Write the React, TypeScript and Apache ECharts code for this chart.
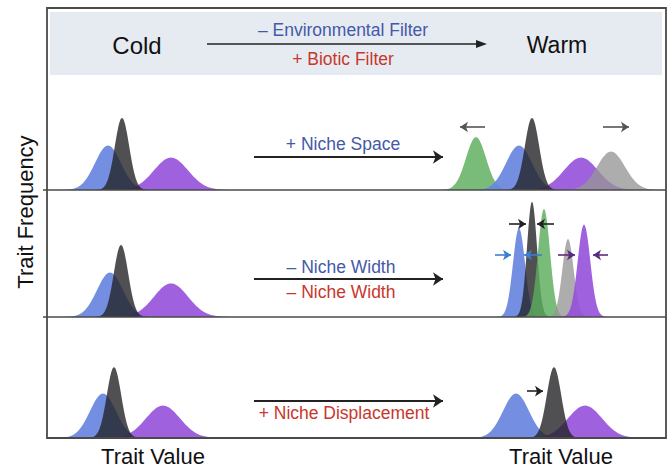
import React, { useEffect, useRef } from "react";
import * as echarts from "echarts";

// Species colours (index used in the data rows)
const speciesNames = ["blue", "black", "purple", "green", "grey"];
const speciesFill = [
  "rgba(104,134,222,0.92)",
  "rgba(36,36,40,0.80)",
  "rgba(150,80,218,0.90)",
  "rgba(92,172,92,0.82)",
  "rgba(150,150,150,0.78)",
];

// Distributions: [mean trait value, sd, peak frequency, species index] (drawing order)
const coldSpace = [
  [6.1, 1.3, 0.37, 0],
  [12.4, 1.7, 0.27, 2],
  [7.5, 0.72, 0.6, 1],
];
const warmSpace = [
  [42.9, 1.0, 0.44, 3],
  [47.2, 1.3, 0.37, 0],
  [53.4, 1.7, 0.27, 2],
  [48.5, 0.72, 0.6, 1],
  [56.4, 1.4, 0.32, 4],
];
const coldWidth = [
  [6.3, 1.3, 0.37, 0],
  [12.4, 1.7, 0.28, 2],
  [7.4, 0.72, 0.6, 1],
];
const warmWidth = [
  [47.2, 0.6, 0.74, 0],
  [48.5, 0.5, 0.96, 1],
  [49.7, 0.6, 0.9, 3],
  [52.1, 0.57, 0.65, 4],
  [53.7, 0.63, 0.77, 2],
];
const coldDisp = [
  [5.6, 1.3, 0.37, 0],
  [11.6, 1.7, 0.27, 2],
  [6.7, 0.72, 0.59, 1],
];
const warmDisp = [
  [46.9, 1.3, 0.37, 0],
  [53.8, 1.7, 0.27, 2],
  [50.7, 0.72, 0.59, 1],
];

// Small shift arrows: [x1, y1, x2, y2, colour]
const arrowsSpace = [
  [43.8, 0.525, 41.3, 0.525, "#555555"],
  [55.6, 0.525, 58.2, 0.525, "#555555"],
];
const arrowsWidth = [
  [46.2, 0.775, 47.9, 0.775, "#222222"],
  [50.7, 0.775, 49.0, 0.775, "#222222"],
  [44.8, 0.517, 46.4, 0.517, "#3a80d0"],
  [49.5, 0.517, 47.7, 0.517, "#3a80d0"],
  [51.1, 0.517, 52.8, 0.517, "#5a2a80"],
  [56.1, 0.517, 54.6, 0.517, "#5a2a80"],
];
const arrowsDisp = [[48.0, 0.39, 49.6, 0.39, "#222222"]];

// Transition arrows (cold -> warm) per panel: [x1, x2, y]
const transitions = [
  [20.7, 39.6, 0.275],
  [20.7, 39.6, 0.317],
  [20.7, 39.6, 0.308],
];

// Panel geometry
const panelTops = [75, 190, 317];
const panelHeights = [115, 127, 121];
const UNIT_PX = 120;

const renderBell = (params: any, api: any) => {
  const mean = api.value(0);
  const sd = api.value(1);
  const peak = api.value(2);
  const idx = api.value(3);
  const lo = mean - 3.8 * sd;
  const hi = mean + 3.8 * sd;
  const n = 100;
  const pts: number[][] = [];
  for (let i = 0; i <= n; i++) {
    const x = lo + ((hi - lo) * i) / n;
    const y = peak * Math.exp(-0.5 * ((x - mean) / sd) ** 2);
    pts.push(api.coord([x, y]));
  }
  pts.push(api.coord([hi, 0]));
  pts.push(api.coord([lo, 0]));
  return {
    type: "polygon",
    shape: { points: pts },
    style: { fill: speciesFill[idx] },
  };
};

export default function App() {
  const ref = useRef<HTMLDivElement>(null);
  useEffect(() => {
    if (!ref.current) return;
    const chart = echarts.init(ref.current, null, { renderer: "svg" });
    const font = "Liberation Sans, Arial, sans-serif";

    const grids = panelTops.map((t, i) => ({
      left: 47,
      top: t,
      width: 620,
      height: panelHeights[i],
    }));
    const xAxes = grids.map((_, i) => ({
      type: "value",
      gridIndex: i,
      min: 0,
      max: 62,
      show: false,
    }));
    const yAxes = grids.map((_, i) => ({
      type: "value",
      gridIndex: i,
      min: 0,
      max: panelHeights[i] / UNIT_PX,
      show: false,
    }));

    const bellSets = [
      [coldSpace, warmSpace],
      [coldWidth, warmWidth],
      [coldDisp, warmDisp],
    ];
    const series: any[] = [];
    bellSets.forEach((sets, gi) => {
      sets.forEach((d, si) => {
        series.push({
          type: "custom",
          name: "panel" + gi + "-" + si,
          xAxisIndex: gi,
          yAxisIndex: gi,
          renderItem: renderBell,
          data: d,
          silent: true,
          z: 2,
        });
      });
    });
    const shiftSets = [arrowsSpace, arrowsWidth, arrowsDisp];
    shiftSets.forEach((arr, gi) => {
      series.push({
        type: "lines",
        coordinateSystem: "cartesian2d",
        xAxisIndex: gi,
        yAxisIndex: gi,
        symbol: ["none", "arrow"],
        symbolSize: 8,
        silent: true,
        z: 5,
        data: arr.map((a) => ({
          coords: [
            [a[0], a[1]],
            [a[2], a[3]],
          ],
          lineStyle: { color: a[4], width: 1.6, opacity: 1 },
        })),
      });
    });
    transitions.forEach((t, gi) => {
      series.push({
        type: "lines",
        coordinateSystem: "cartesian2d",
        xAxisIndex: gi,
        yAxisIndex: gi,
        symbol: ["none", "arrow"],
        symbolSize: 10,
        silent: true,
        z: 5,
        data: [
          {
            coords: [
              [t[0], t[2]],
              [t[1], t[2]],
            ],
            lineStyle: { color: "#222222", width: 1.8, opacity: 1 },
          },
        ],
      });
    });

    const txt = (
      x: number,
      y: number,
      text: string,
      size: number,
      fill: string,
      extra: any = {}
    ) => ({
      type: "text",
      x,
      y,
      z: 10,
      ...extra,
      style: {
        text,
        fill,
        font: `${size}px ${font}`,
        align: "center",
        verticalAlign: "middle",
      },
    });

    const blueT = "#4459a8";
    const redT = "#c8372d";

    chart.setOption({
      animation: false,
      backgroundColor: "#ffffff",
      grid: grids,
      xAxis: xAxes,
      yAxis: yAxes,
      series,
      graphic: [
        {
          type: "rect",
          z: 0,
          shape: { x: 50, y: 12, width: 612, height: 63 },
          style: { fill: "#e6ebf2" },
        },
        {
          type: "rect",
          z: 8,
          shape: { x: 47, y: 8, width: 619, height: 430 },
          style: { fill: "none", stroke: "#4a4a4a", lineWidth: 1.8 },
        },
        {
          type: "line",
          z: 8,
          shape: { x1: 43, y1: 190, x2: 666, y2: 190 },
          style: { stroke: "#4a4a4a", lineWidth: 1.5 },
        },
        {
          type: "line",
          z: 8,
          shape: { x1: 43, y1: 317, x2: 666, y2: 317 },
          style: { stroke: "#4a4a4a", lineWidth: 1.5 },
        },
        {
          type: "line",
          z: 8,
          shape: { x1: 207, y1: 44, x2: 478, y2: 44 },
          style: { stroke: "#222222", lineWidth: 1.6 },
        },
        {
          type: "polygon",
          z: 8,
          shape: {
            points: [
              [476, 40],
              [487, 44],
              [476, 48],
            ],
          },
          style: { fill: "#222222" },
        },
        txt(137, 45, "Cold", 24, "#111111"),
        txt(557, 45, "Warm", 23, "#111111"),
        txt(343, 30, "– Environmental Filter", 17.5, blueT),
        txt(343, 59, "+ Biotic Filter", 17.5, redT),
        txt(343, 144, "+ Niche Space", 17.5, blueT),
        txt(341, 267, "– Niche Width", 17.5, blueT),
        txt(341, 292, "– Niche Width", 17.5, redT),
        txt(344, 413, "+ Niche Displacement", 17.5, redT),
        txt(153, 456, "Trait Value", 22, "#111111"),
        txt(561, 456, "Trait Value", 22, "#111111"),
        txt(0, 0, "Trait Frequency", 22, "#111111", {
          x: 25,
          y: 212,
          rotation: Math.PI / 2,
        }),
      ],
    });
    return () => chart.dispose();
  }, []);
  return (
    <div
      ref={ref}
      style={{ position: "fixed", left: 0, top: 0, width: 672, height: 470 }}
    />
  );
}
